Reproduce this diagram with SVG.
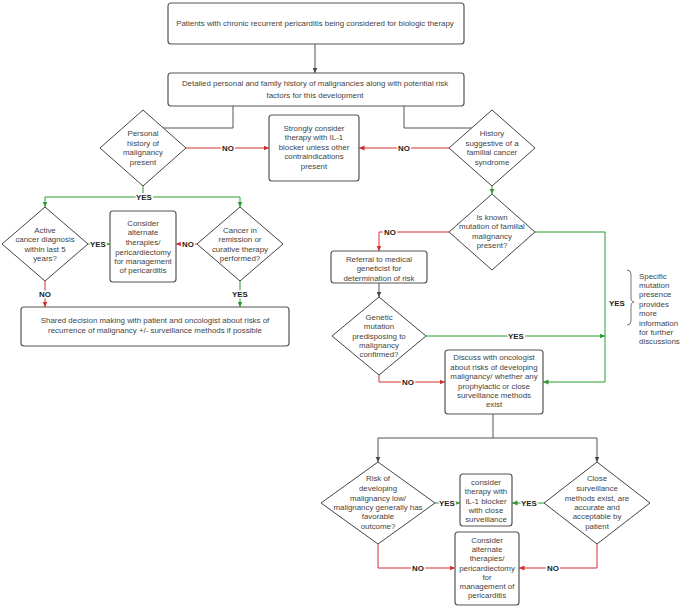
<svg xmlns="http://www.w3.org/2000/svg" width="680" height="608" viewBox="0 0 680 608">
<style>
.bx{fill:#fff;stroke:#555;stroke-width:1.2}
.dm{fill:#fff;stroke:#444;stroke-width:1}
.t{font-family:"Liberation Sans",Arial,sans-serif;font-size:7.9px;fill:#444;text-anchor:middle}
.nt{font-family:"Liberation Sans",Arial,sans-serif;font-size:7.9px;fill:#444;text-anchor:start}
.lb{font-family:"Liberation Sans",Arial,sans-serif;font-size:7.9px;font-weight:bold;fill:#222;text-anchor:middle;stroke:#fff;stroke-width:3px;paint-order:stroke}
.k{fill:none;stroke:#555;stroke-width:1}
.g{fill:none;stroke:#2e9a2e;stroke-width:1}
.r{fill:none;stroke:#d32f2f;stroke-width:1}
</style>
<defs>
<marker id="ak" markerUnits="userSpaceOnUse" markerWidth="6" markerHeight="6" refX="5.5" refY="3" orient="auto"><path d="M0,0.5 L5.5,3 L0,5.5z" fill="#444"/></marker>
<marker id="ag" markerUnits="userSpaceOnUse" markerWidth="6" markerHeight="6" refX="5.5" refY="3" orient="auto"><path d="M0,0.5 L5.5,3 L0,5.5z" fill="#2e9a2e"/></marker>
<marker id="ar" markerUnits="userSpaceOnUse" markerWidth="6" markerHeight="6" refX="5.5" refY="3" orient="auto"><path d="M0,0.5 L5.5,3 L0,5.5z" fill="#d32f2f"/></marker>
</defs>
<rect width="680" height="608" fill="#fff"/>
<g id="connectors">
<path class="k" d="M315 44 V73" marker-end="url(#ak)"/>
<path class="k" d="M233 106 V128 H143 V110" marker-end="url(#ak)"/>
<path class="k" d="M404 106 V128 H492 V110" marker-end="url(#ak)"/>
<path class="r" d="M186 148 H269" marker-end="url(#ar)"/>
<path class="r" d="M449 148 H359" marker-end="url(#ar)"/>
<path class="g" d="M492 186 V194" marker-end="url(#ag)"/>
<path class="g" d="M143 186 V197 H45 V207" marker-end="url(#ag)"/>
<path class="g" d="M143 197 H240 V207" marker-end="url(#ag)"/>
<path class="g" d="M88 244 H110" marker-end="url(#ag)"/>
<path class="r" d="M197 244 H176" marker-end="url(#ar)"/>
<path class="r" d="M45 281 V307" marker-end="url(#ar)"/>
<path class="g" d="M240 281 V307" marker-end="url(#ag)"/>
<path class="r" d="M449 232 H379 V251" marker-end="url(#ar)"/>
<path class="g" d="M535 232 H605 V382 H543" marker-end="url(#ag)"/>
<path class="k" d="M379 283 V297" marker-end="url(#ak)"/>
<path class="g" d="M426 336 H605" marker-end="url(#ag)"/>
<path class="r" d="M379 375 V382 H445" marker-end="url(#ar)"/>
<path class="k" d="M493 414 V438"/>
<path class="k" d="M378 438 H597"/>
<path class="k" d="M378 438 V462" marker-end="url(#ak)"/>
<path class="k" d="M597 438 V462" marker-end="url(#ak)"/>
<path class="g" d="M435 503 H460" marker-end="url(#ag)"/>
<path class="g" d="M544 503 H512" marker-end="url(#ag)"/>
<path class="r" d="M378 544 V568 H455" marker-end="url(#ar)"/>
<path class="r" d="M597 544 V568 H519" marker-end="url(#ar)"/>
<path d="M506 495 H511 L508.5 500z" fill="#333"/>
<text class="lb" x="228" y="151">NO</text>
<text class="lb" x="404" y="151">NO</text>
<text class="lb" x="144" y="200">YES</text>
<text class="lb" x="98" y="247">YES</text>
<text class="lb" x="188" y="247">NO</text>
<text class="lb" x="45" y="297">NO</text>
<text class="lb" x="240" y="297">YES</text>
<text class="lb" x="390" y="235">NO</text>
<text class="lb" x="617" y="306">YES</text>
<text class="lb" x="516" y="339">YES</text>
<text class="lb" x="408" y="385">NO</text>
<text class="lb" x="447" y="506">YES</text>
<text class="lb" x="529" y="506">YES</text>
<text class="lb" x="418" y="571">NO</text>
<text class="lb" x="553" y="571">NO</text>
</g>
<g id="n1"><rect class="bx" x="168" y="3" width="296" height="41" rx="3"/><text class="t" x="315" y="26">Patients with chronic recurrent pericarditis being considered for biologic therapy</text></g>
<g id="n2"><rect class="bx" x="168" y="73" width="296" height="33" rx="3"/><text class="t" x="315" y="86">Detailed personal and family history of malignancies along with potential risk</text><text class="t" x="315" y="98">factors for this development</text></g>
<g id="d1"><path class="dm" d="M143 110 L186 148 L143 186 L100 148z"/><text class="t" x="143" y="136">Personal</text><text class="t" x="143" y="146">history of</text><text class="t" x="143" y="155">malignancy</text><text class="t" x="143" y="165">present</text></g>
<g id="n3"><rect class="bx" x="269" y="115" width="90" height="66" rx="3"/><text class="t" x="314" y="131">Strongly consider</text><text class="t" x="314" y="140">therapy with IL-1</text><text class="t" x="314" y="150">blocker unless other</text><text class="t" x="314" y="159">contraindications</text><text class="t" x="314" y="169">present</text></g>
<g id="d2"><path class="dm" d="M492 110 L535 148 L492 186 L449 148z"/><text class="t" x="492" y="136">History</text><text class="t" x="492" y="146">suggestive of a</text><text class="t" x="492" y="155">familial cancer</text><text class="t" x="492" y="165">syndrome</text></g>
<g id="d3"><path class="dm" d="M492 194 L535 232 L492 270 L449 232z"/><text class="t" x="492" y="220">Is known</text><text class="t" x="492" y="229">mutation of familial</text><text class="t" x="492" y="239">malignancy</text><text class="t" x="492" y="248">present?</text></g>
<g id="d4"><path class="dm" d="M45 207 L88 244 L45 281 L2 244z"/><text class="t" x="45" y="233">Active</text><text class="t" x="45" y="242">cancer diagnosis</text><text class="t" x="45" y="252">within last 5</text><text class="t" x="45" y="261">years?</text></g>
<g id="n4"><rect class="bx" x="110" y="211" width="66" height="71" rx="3"/><text class="t" x="143" y="226">Consider</text><text class="t" x="143" y="235">alternate</text><text class="t" x="143" y="245">therapies/</text><text class="t" x="143" y="255">pericardiectomy</text><text class="t" x="143" y="264">for management</text><text class="t" x="143" y="273">of pericarditis</text></g>
<g id="d5"><path class="dm" d="M240 207 L283 244 L240 281 L197 244z"/><text class="t" x="240" y="233">Cancer in</text><text class="t" x="240" y="242">remission or</text><text class="t" x="240" y="252">curative therapy</text><text class="t" x="240" y="261">performed?</text></g>
<g id="n5"><rect class="bx" x="21" y="307" width="268" height="39" rx="3"/><text class="t" x="155" y="323">Shared decision making with patient and oncologist about risks of</text><text class="t" x="155" y="333">recurrence of malignancy +/- surveillance methods if possible</text></g>
<g id="n6"><rect class="bx" x="331" y="251" width="96" height="32" rx="3"/><text class="t" x="379" y="262">Referral to medical</text><text class="t" x="379" y="271">geneticist for</text><text class="t" x="379" y="281">determination of risk</text></g>
<g id="d6"><path class="dm" d="M379 297 L426 336 L379 375 L332 336z"/><text class="t" x="379" y="320">Genetic</text><text class="t" x="379" y="329">mutation</text><text class="t" x="379" y="339">predisposing to</text><text class="t" x="379" y="348">malignancy</text><text class="t" x="379" y="357">confirmed?</text></g>
<g id="n7"><rect class="bx" x="445" y="350" width="98" height="64" rx="3"/><text class="t" x="494" y="360">Discuss with oncologist</text><text class="t" x="494" y="370">about risks of developing</text><text class="t" x="494" y="379">malignancy/ whether any</text><text class="t" x="494" y="389">prophylactic or close</text><text class="t" x="494" y="398">surveillance methods</text><text class="t" x="494" y="407">exist</text></g>
<g id="note"><path d="M627 270 Q631 270 631 274 V297 Q631 302 634 302 Q631 302 631 307 V321 Q631 325 627 325" fill="none" stroke="#666" stroke-width="0.9"/><text class="nt" x="639" y="279">Specific</text><text class="nt" x="639" y="288">mutation</text><text class="nt" x="639" y="297">presence</text><text class="nt" x="639" y="307">provides</text><text class="nt" x="639" y="316">more</text><text class="nt" x="639" y="326">information</text><text class="nt" x="639" y="335">for further</text><text class="nt" x="639" y="344">discussions</text></g>
<g id="d7"><path class="dm" d="M378 462 L435 503 L378 544 L321 503z"/><text class="t" x="378" y="481">Risk of</text><text class="t" x="378" y="491">developing</text><text class="t" x="378" y="501">malignancy low/</text><text class="t" x="378" y="510">malignancy generally has</text><text class="t" x="378" y="519">favorable</text><text class="t" x="378" y="529">outcome?</text></g>
<g id="n8"><rect class="bx" x="460" y="474" width="52" height="52" rx="3"/><text class="t" x="486" y="485">consider</text><text class="t" x="486" y="494">therapy with</text><text class="t" x="486" y="504">IL-1 blocker</text><text class="t" x="486" y="513">with close</text><text class="t" x="486" y="522">surveillance</text></g>
<g id="d8"><path class="dm" d="M597 462 L650 503 L597 544 L544 503z"/><text class="t" x="597" y="481">Close</text><text class="t" x="597" y="491">surveillance</text><text class="t" x="597" y="501">methods exist, are</text><text class="t" x="597" y="510">accurate and</text><text class="t" x="597" y="519">acceptable by</text><text class="t" x="597" y="529">patient</text></g>
<g id="n9"><rect class="bx" x="455" y="532" width="64" height="73" rx="3"/><text class="t" x="487" y="543">Consider</text><text class="t" x="487" y="552">alternate</text><text class="t" x="487" y="561">therapies/</text><text class="t" x="487" y="571">pericardiectomy</text><text class="t" x="487" y="580">for</text><text class="t" x="487" y="589">management of</text><text class="t" x="487" y="598">pericarditis</text></g>
</svg>
